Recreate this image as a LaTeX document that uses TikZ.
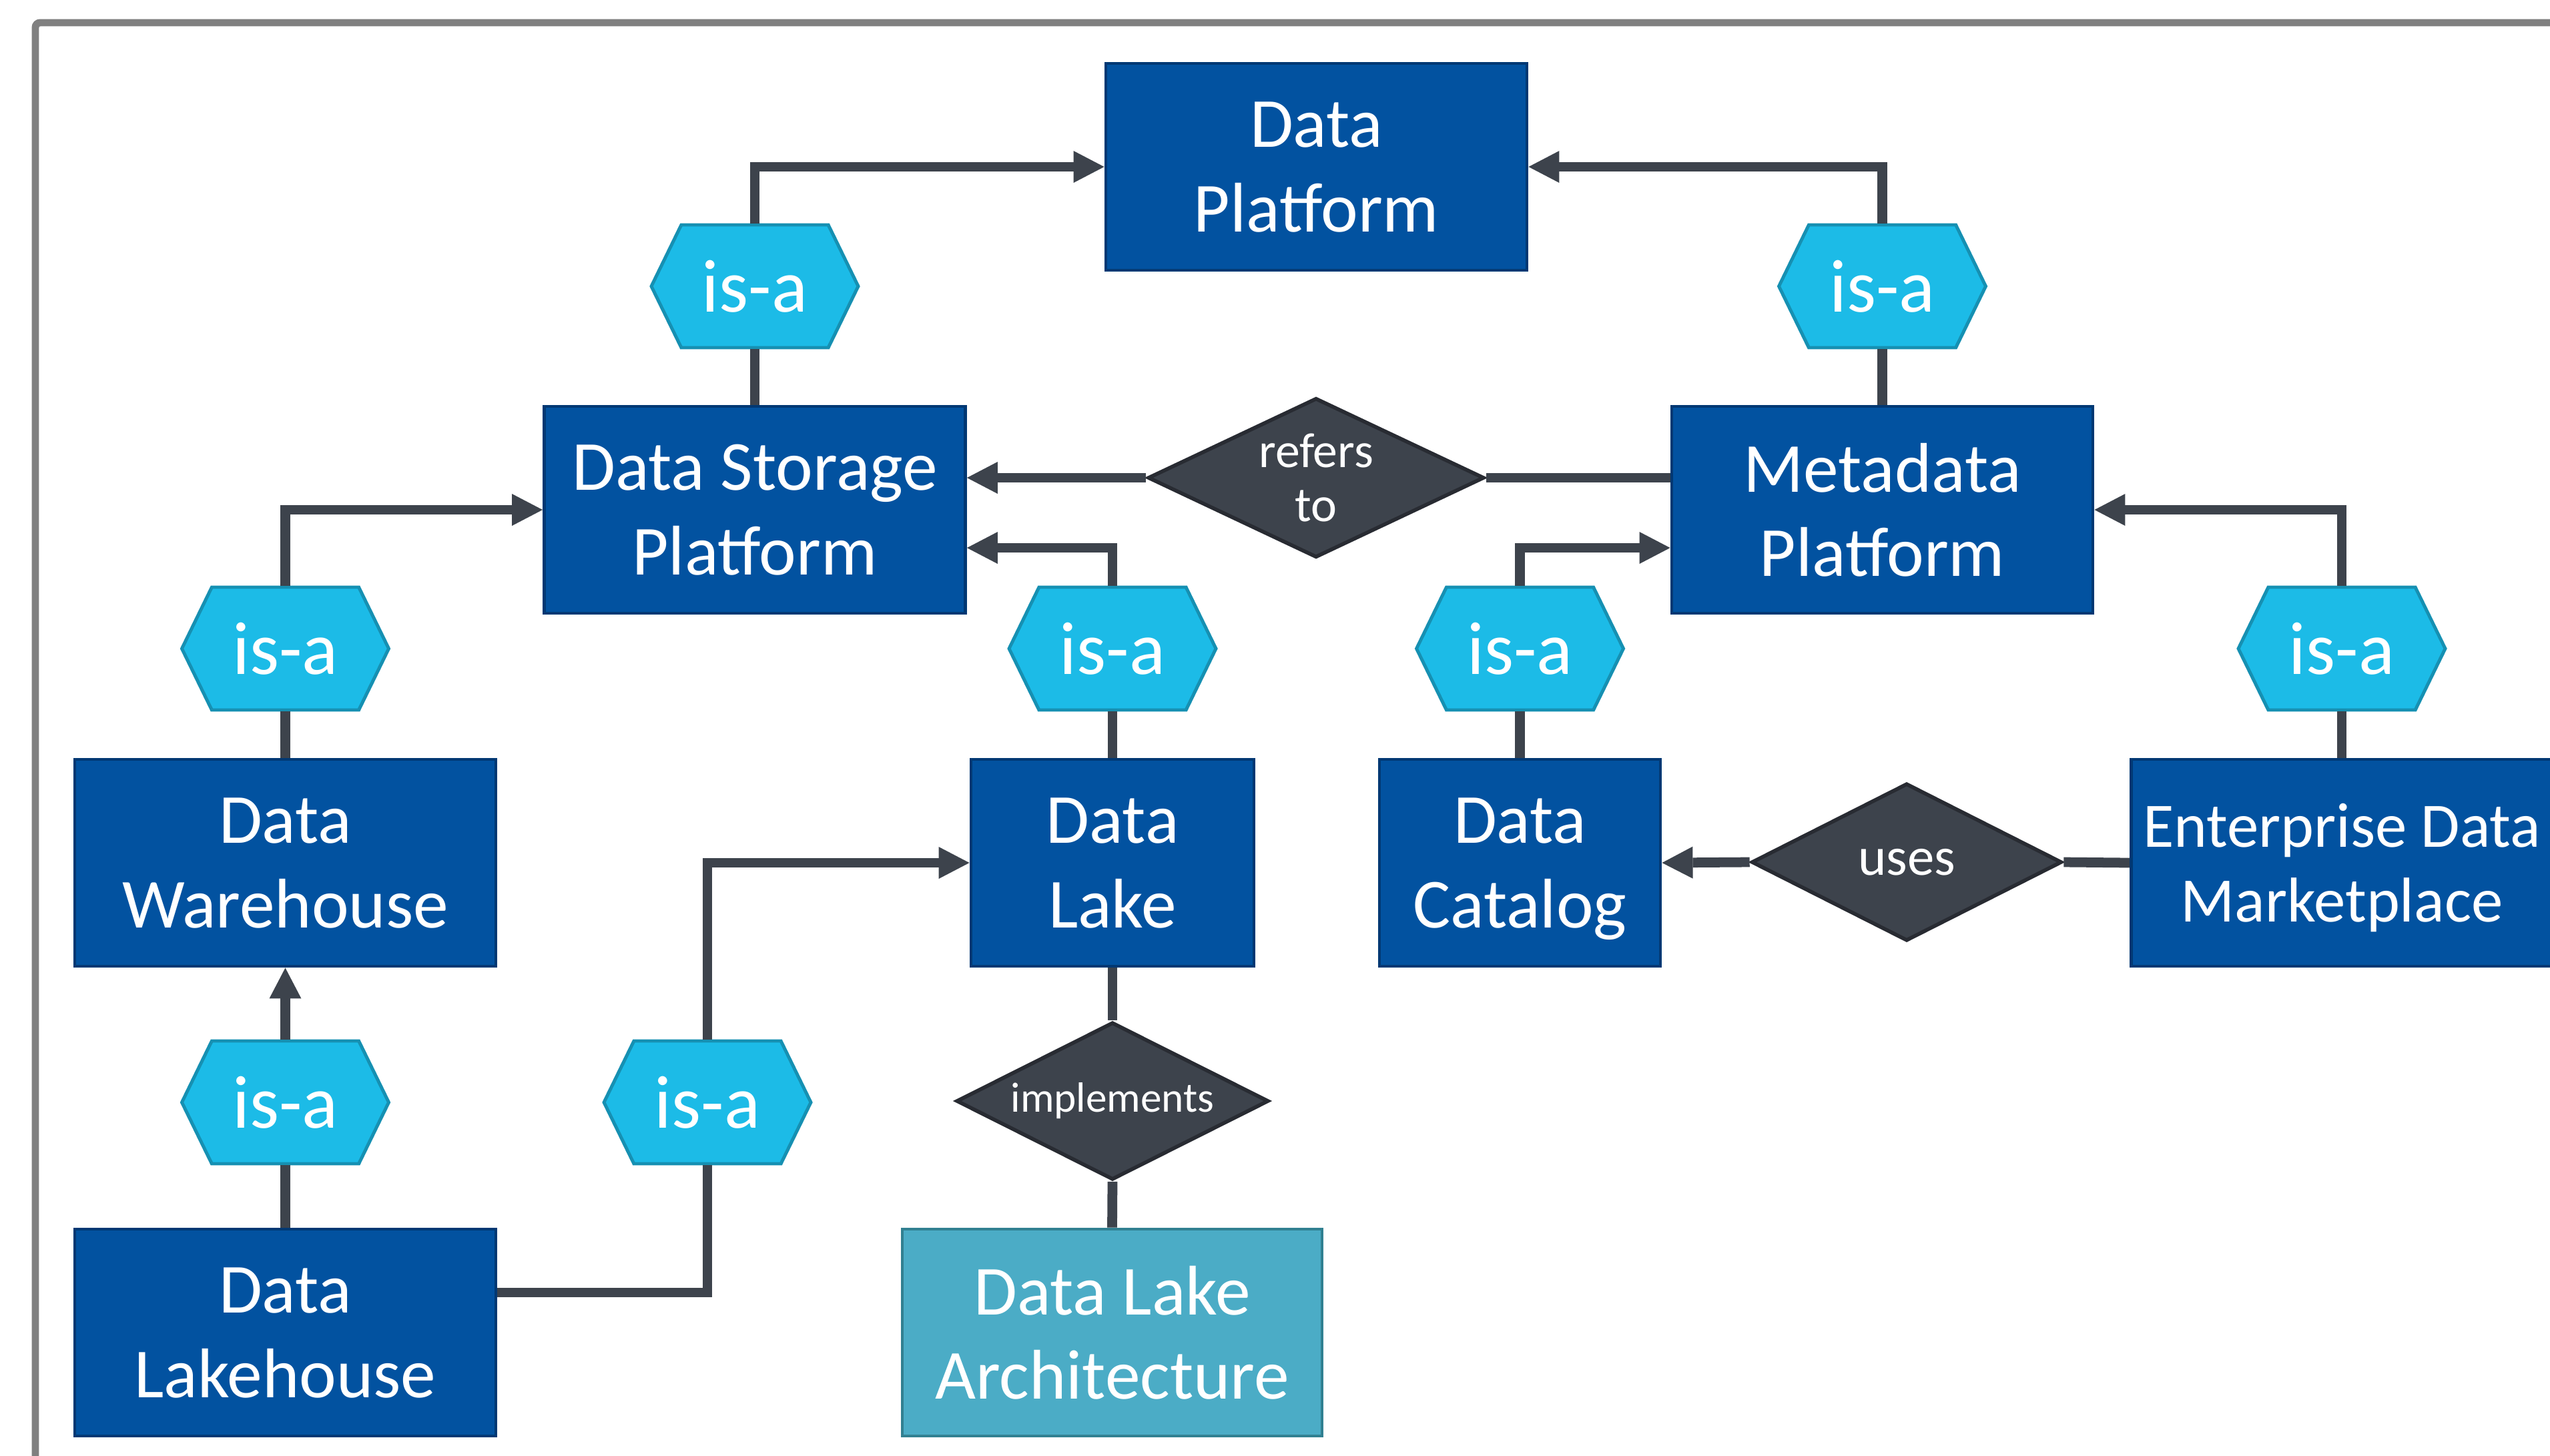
\documentclass[tikz,border=0pt]{standalone}
\usepackage{fontspec}
\setmainfont{Carlito}
\usetikzlibrary{arrows.meta,shapes.geometric,shapes.symbols}
\definecolor{boxfill}{RGB}{2,82,160}
\definecolor{boxline}{RGB}{0,56,115}
\definecolor{hexfill}{RGB}{28,187,231}
\definecolor{hexline}{RGB}{22,144,178}
\definecolor{diafill}{RGB}{61,67,76}
\definecolor{dialine}{RGB}{40,43,50}
\definecolor{connc}{RGB}{61,67,76}
\definecolor{archfill}{RGB}{75,172,198}
\definecolor{archline}{RGB}{49,128,145}
\definecolor{framec}{RGB}{128,128,128}

\begin{document}
\begin{tikzpicture}[
  box/.style={draw=boxline, fill=boxfill, line width=1.4pt, text=white, align=center,
    minimum width=6.31cm, minimum height=3.1cm, inner sep=0pt, text depth=0pt,
    font=\fontsize{30}{36}\selectfont},
  isa/.style={signal, signal to=west and east, signal pointer angle=128, draw=hexline,
    fill=hexfill, line width=1.4pt, text=white, minimum width=3.1cm, minimum height=1.84cm,
    inner sep=0pt, font=\fontsize{32}{38}\selectfont},
  rel/.style={diamond, aspect=2, draw=dialine, fill=diafill, line width=1.6pt, text=white,
    align=center, inner sep=0pt},
  conn/.style={draw=connc, line width=4.2pt},
  arr/.style={conn, -{Triangle[length=4.6mm, width=4.8mm, line width=0pt]}}
]
\useasboundingbox (0,0) rectangle (38.21,-21.81);
\clip (0,0) rectangle (38.21,-21.81);
\draw[framec, line width=3.1pt, rounded corners=2pt] (0.53,-23) |- (39,-0.34);

\node[box] (1) at (19.725,-2.50) {Data\\Platform};
\node[box] (2) at (11.31,-7.64) {Data Storage\\Platform};
\node[box] (3) at (28.205,-7.64) {Metadata\\Platform};
\node[box] (4) at (4.275,-12.93) {Data\\Warehouse};
\node[box, minimum width=4.24cm] (5) at (16.67,-12.93) {Data\\Lake};
\node[box, minimum width=4.21cm] (6) at (22.775,-12.93) {Data\\Catalog};
\node[box, font=\fontsize{27}{32}\selectfont] (7) at (35.09,-12.93) {Enterprise Data\\Marketplace};
\node[box] (8) at (4.275,-19.97) {Data\\Lakehouse};
\node[box, draw=archline, fill=archfill, minimum width=6.29cm] (9) at (16.665,-19.97) {Data Lake\\Architecture};

\node[isa] (10) at (11.31,-4.29) {is-a};
\node[isa] (11) at (28.205,-4.29) {is-a};
\node[isa] (12) at (4.275,-9.72) {is-a};
\node[isa] (13) at (16.67,-9.72) {is-a};
\node[isa] (14) at (22.775,-9.72) {is-a};
\node[isa] (15) at (35.09,-9.72) {is-a};
\node[isa] (16) at (4.275,-16.52) {is-a};
\node[isa] (17) at (10.60,-16.52) {is-a};

\node[rel, minimum width=5.04cm, minimum height=2.39cm, font=\fontsize{21}{23}\selectfont] (18) at (19.72,-7.16) {refers\\to};
\node[rel, minimum width=4.65cm, minimum height=2.36cm, font=\fontsize{23}{27}\selectfont] (19) at (28.57,-12.92) {uses};
\node[rel, minimum width=4.68cm, minimum height=2.36cm, font=\fontsize{18}{22}\selectfont] (20) at (16.67,-16.50) {implements};

\path[conn] (2.north) -- (10.south);
\path[arr] (10.north) |- (1.west);
\path[conn] (3.north) -- (11.south);
\path[arr] (11.north) |- (1.east);
\path[conn] (3.west |- 18.east) -- (18.east);
\path[arr] (18.west) -- (18.west -| 2.east);
\path[conn] (4.north) -- (12.south);
\path[arr] (12.north) |- (2.west);
\path[conn] (5.north) -- (13.south);
\path[arr] (13.north) |- ([yshift=-5.7mm]2.east);
\path[conn] (6.north) -- (14.south);
\path[arr] (14.north) |- ([yshift=-5.7mm]3.west);
\path[conn] (7.north) -- (15.south);
\path[arr] (15.north) |- (3.east);
\path[conn] (7.west) -- (19.east);
\path[arr] (19.west) -- (6.east);
\path[conn] (8.north) -- (16.south);
\path[arr] (16.north) -- (4.south);
\path[conn] ([yshift=6mm]8.east) -| (17.south);
\path[arr] (17.north) |- (5.west);
\path[conn] (5.south) -- (20.north);
\path[conn] (20.south) -- (9.north);
\end{tikzpicture}
\end{document}
